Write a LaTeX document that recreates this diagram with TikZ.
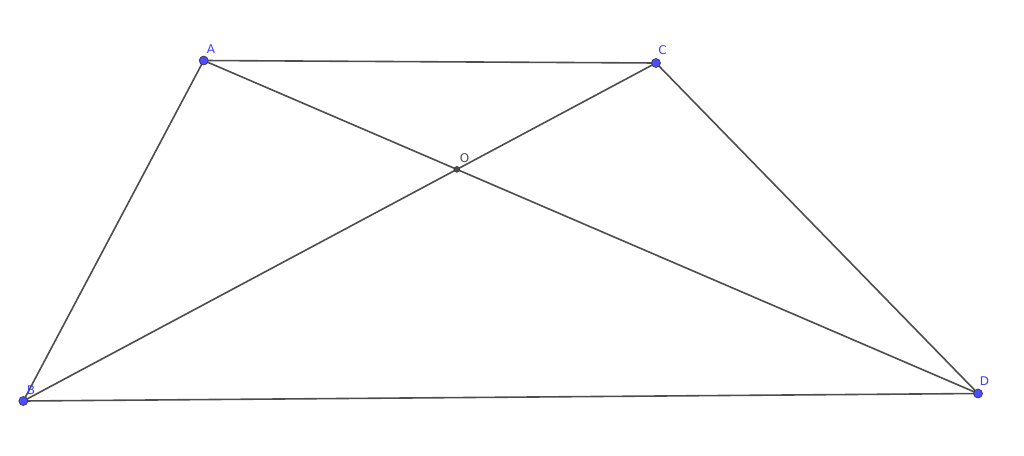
\documentclass[tikz,border=0pt]{standalone}
\usepackage{fontspec}
\setmainfont{DejaVu Sans}
\definecolor{ptblue}{RGB}{77,77,255}
\definecolor{lblblue}{RGB}{64,64,255}
\definecolor{segray}{RGB}{77,77,77}
\tikzset{
  vertex/.style={circle, fill=ptblue, draw=black!80, line width=0.6pt, inner sep=0pt, minimum size=9pt},
  crosspt/.style={circle, fill=segray, draw=black!80, line width=0.4pt, inner sep=0pt, minimum size=6pt},
  lbl/.style={text=lblblue, font=\fontsize{12}{14}\selectfont, inner sep=0pt},
  seg/.style={segray, line width=1.6pt},
}
\begin{document}
\begin{tikzpicture}[x=1pt, y=-1pt] % {{{
\useasboundingbox (0,0) rectangle (1024,455);
% Puntos {{{
\coordinate (A) at (203.7,60.5);
\coordinate (C) at (656,63);
\coordinate (B) at (23.3,401);
\coordinate (D) at (978,393.5);
\coordinate (O) at (intersection of A--D and B--C);
% }}}
% Lados y diagonales {{{
\draw[seg] (A) -- (C) -- (D) -- (B) -- cycle;
\draw[seg] (A) -- (D);
\draw[seg] (B) -- (C);
% }}}
% Marcas y etiquetas {{{
\node[vertex] (pA) at (A) {};
\node[vertex] (pC) at (C) {};
\node[vertex] (pB) at (B) {};
\node[vertex] (pD) at (D) {};
\node[crosspt] (pO) at (O) {};
\node[lbl] (lA) at (211,49.5) {A};
\node[lbl] (lC) at (662.5,50) {C};
\node[lbl] (lB) at (31,390) {B};
\node[lbl] (lD) at (984.5,381.5) {D};
\node[lbl, text=segray] (lO) at (464.5,158.5) {O};
% }}}
\end{tikzpicture} % }}}
\end{document}
